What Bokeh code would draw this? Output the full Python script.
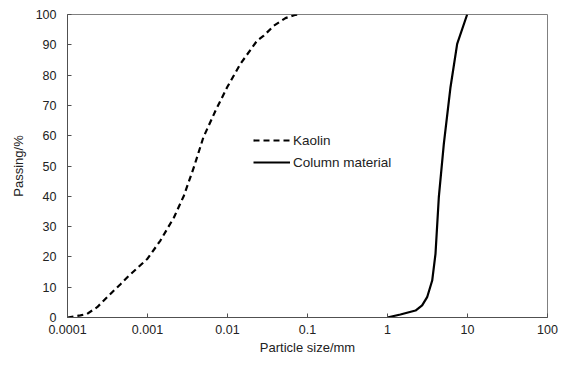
from bokeh.plotting import figure
from bokeh.models import Range1d, FixedTicker, CustomJSTickFormatter, Legend, LegendItem
from bokeh.embed import file_html
from bokeh.resources import INLINE

# Data
kaolin_size = [0.0001, 0.000145, 0.000176, 0.000235, 0.000313, 0.00046, 0.00056, 0.001,
               0.00145, 0.00214, 0.00285, 0.0038, 0.005, 0.0071, 0.0099, 0.0145,
               0.0235, 0.0284, 0.0379, 0.053, 0.0708, 0.082]
kaolin_pass = [0, 0.7, 1.2, 3.4, 6.7, 11, 13.3, 19.4,
               25.4, 33, 40.2, 49.6, 59.5, 68.3, 76, 83.7,
               91.4, 93.0, 96.3, 98.8, 99.9, 100]

column_size = [0.99, 1.45, 2.24, 2.71, 3.13, 3.62, 3.98, 4.38, 5.06, 6.13, 7.43, 9.9]
column_pass = [0, 1, 2.3, 4, 6.7, 12.2, 21, 39.7, 57.3, 76, 90.3, 100]

x_ticks = [0.0001, 0.001, 0.01, 0.1, 1, 10, 100]
x_labels = ["0.0001", "0.001", "0.01", "0.1", "1", "10", "100"]
y_ticks = [0, 10, 20, 30, 40, 50, 60, 70, 80, 90, 100]

FONT = "Liberation Sans"
TXT = "#222222"

p = figure(width=562, height=367, output_backend="svg", toolbar_location=None,
           x_axis_type="log", x_range=Range1d(1e-4, 100), y_range=Range1d(0, 100),
           min_border_left=67, min_border_top=14, min_border_right=15, min_border_bottom=50)
p.xgrid.grid_line_color = None
p.ygrid.grid_line_color = None
p.outline_line_color = "#808080"
p.outline_line_width = 1
p.background_fill_color = "white"
p.border_fill_color = "white"

r1 = p.line(kaolin_size, kaolin_pass, line_color="black", line_width=2.2, line_dash="6 4")
r2 = p.line(column_size, column_pass, line_color="black", line_width=2.2)

p.xaxis.ticker = FixedTicker(ticks=x_ticks, minor_ticks=[])
p.xaxis.formatter = CustomJSTickFormatter(args=dict(vals=x_ticks, labs=x_labels), code="""
    let best = 0, bd = 1e9;
    for (let i = 0; i < vals.length; i++) {
        const d = Math.abs(Math.log10(vals[i]) - Math.log10(tick));
        if (d < bd) { bd = d; best = i; }
    }
    return labs[best];
""")
p.yaxis.ticker = FixedTicker(ticks=y_ticks, minor_ticks=[])

for ax in (p.xaxis[0], p.yaxis[0]):
    ax.axis_line_color = "#505050"
    ax.major_tick_line_color = "#505050"
    ax.major_tick_in = 4
    ax.major_tick_out = 0
    ax.minor_tick_line_color = None
    ax.major_label_text_font = FONT
    ax.major_label_text_font_size = "12.5px"
    ax.major_label_text_color = TXT
    ax.axis_label_text_font = FONT
    ax.axis_label_text_font_size = "13px"
    ax.axis_label_text_font_style = "normal"
    ax.axis_label_text_color = TXT

p.xaxis.axis_label = "Particle size/mm"
p.yaxis.axis_label = "Passing/%"
p.xaxis.major_label_standoff = 7
p.yaxis.major_label_standoff = 11
p.xaxis.axis_label_standoff = 3
p.yaxis.axis_label_standoff = 7

legend = Legend(items=[LegendItem(label="Kaolin", renderers=[r1]),
                       LegendItem(label="Column material", renderers=[r2])],
                location=(186, 145), orientation="vertical")
legend.border_line_color = None
legend.background_fill_alpha = 0
legend.padding = 0
legend.margin = 0
legend.spacing = 2
legend.glyph_width = 37
legend.glyph_height = 20
legend.label_height = 20
legend.label_standoff = 3
legend.label_text_font = FONT
legend.label_text_font_size = "13.5px"
legend.label_text_color = TXT
p.add_layout(legend, "center")

open("out.html", "w").write(file_html(p, INLINE))
